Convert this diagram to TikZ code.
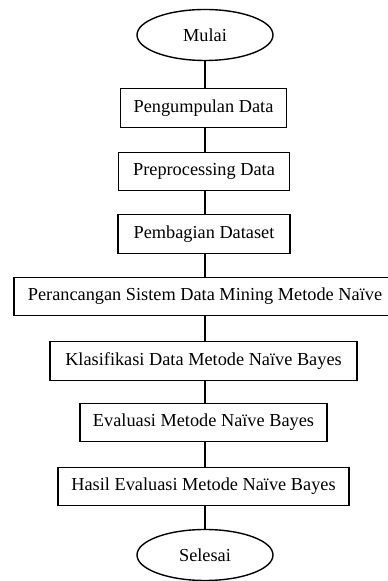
\documentclass[tikz,border=0pt]{standalone}
\usepackage{fontspec}
\setmainfont{Liberation Serif}
\usetikzlibrary{shapes.geometric}
\begin{document}
\begin{tikzpicture}[x=1bp,y=1bp,
  every node/.style={font=\fontsize{18.3bp}{21bp}\selectfont, line width=1.4bp, draw=black, inner sep=0pt},
  procbox/.style={rectangle, minimum height=38.5bp},
  term/.style={ellipse, minimum width=136bp, minimum height=51bp},
  link/.style={line width=1.5bp}]
\useasboundingbox (0,0) rectangle (387,581);
\node[term] (start) at (205,546) {Mulai};
\node[procbox, minimum width=166bp] (p1) at (203.5,473) {Pengumpulan Data};
\node[procbox, minimum width=171bp] (p2) at (204,409.5) {Preprocessing Data};
\node[procbox, minimum width=172bp] (p3) at (204,347) {Pembagian Dataset};
\node[procbox, minimum width=382bp] (p4) at (205,284.5) {Perancangan Sistem Data Mining Metode Naïve};
\node[procbox, minimum width=307bp] (p5) at (203.5,220) {Klasifikasi Data Metode Naïve Bayes};
\node[procbox, minimum width=247bp] (p6) at (203.5,158.5) {Evaluasi Metode Naïve Bayes};
\node[procbox, minimum width=291bp] (p7) at (203.5,94.5) {Hasil Evaluasi Metode Naïve Bayes};
\node[term] (end) at (205,26) {Selesai};
\draw[link] (start.south) -- (start.south |- p1.north);
\draw[link] (start.south |- p1.south) -- (start.south |- p2.north);
\draw[link] (start.south |- p2.south) -- (start.south |- p3.north);
\draw[link] (start.south |- p3.south) -- (start.south |- p4.north);
\draw[link] (start.south |- p4.south) -- (start.south |- p5.north);
\draw[link] (start.south |- p5.south) -- (start.south |- p6.north);
\draw[link] (start.south |- p6.south) -- (start.south |- p7.north);
\draw[link] (start.south |- p7.south) -- (end.north);
\end{tikzpicture}
\end{document}
